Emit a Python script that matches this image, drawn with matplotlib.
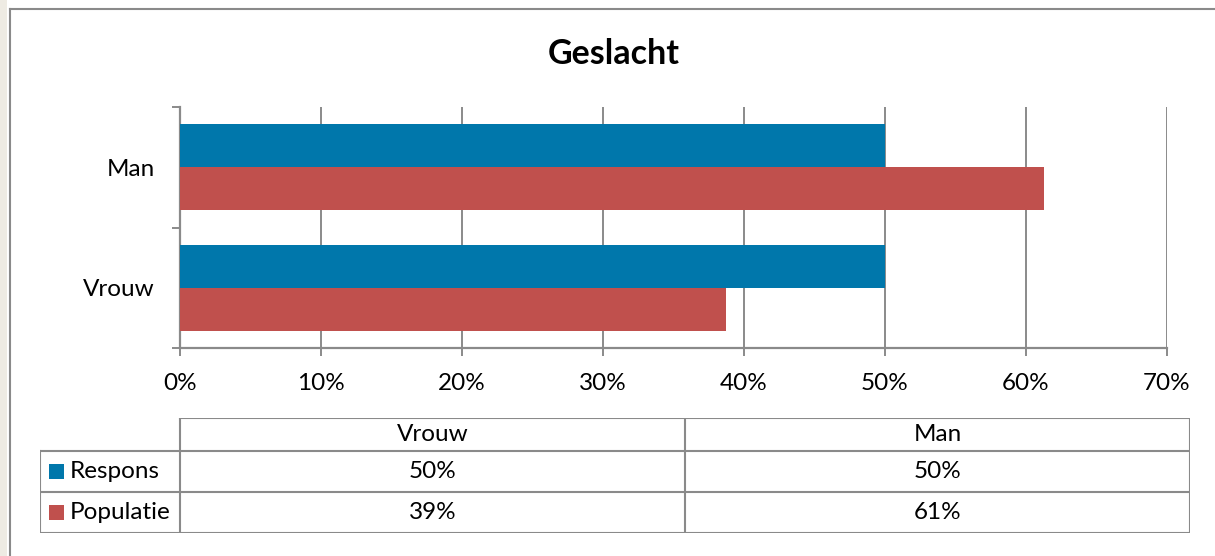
"""
Geslacht: respons vs. populatie, Excel-style horizontal bar chart with data table.
"""

import numpy as np
import matplotlib

matplotlib.use("Agg")
import matplotlib.pyplot as plt
from matplotlib.patches import Rectangle
from matplotlib.ticker import FuncFormatter, MultipleLocator

# ---------------------------------------------------------------------------
# Data
# ---------------------------------------------------------------------------

categories = ["Vrouw", "Man"]
series_names = ["Respons", "Populatie"]
respons = [50.0, 50.0]
populatie = [38.7, 61.3]
table_respons = ["50%", "50%"]
table_populatie = ["39%", "61%"]
title = "Geslacht"

colors = ["#0077AB", "#C0504D"]
grey = "#8A8A8A"
fs = 17.5

plt.rcParams["font.family"] = ["Lato", "DejaVu Sans"]

# ---------------------------------------------------------------------------
# Layout helpers (pixel -> figure fraction)
# ---------------------------------------------------------------------------

W, H = 1215, 556
fig = plt.figure(figsize=(W / 100, H / 100), dpi=100)


def px_rect(x0, y0, x1, y1):
    return [x0 / W, 1 - y1 / H, (x1 - x0) / W, (y1 - y0) / H]


# window frame: beige strip + grey border
fig.patches.append(Rectangle((0, 0), 7 / W, 1, transform=fig.transFigure,
                             facecolor="#EEEBE3", edgecolor="none"))
fig.add_artist(plt.Line2D([10 / W, 10 / W], [0, 1 - 9 / H],
                          transform=fig.transFigure, color=grey, lw=1.5))
fig.add_artist(plt.Line2D([10 / W, 1], [1 - 9 / H, 1 - 9 / H],
                          transform=fig.transFigure, color=grey, lw=1.5))

fig.text(614 / W, 1 - 54 / H, title, ha="center", va="center",
         fontsize=24.5, fontweight="bold")

# ---------------------------------------------------------------------------
# Bars
# ---------------------------------------------------------------------------

ax = fig.add_axes(px_rect(180, 107, 1167, 348))
y = np.arange(len(categories))
h = 0.357
ax.barh(y + h / 2, respons, height=h, color=colors[0], zorder=3)
ax.barh(y - h / 2, populatie, height=h, color=colors[1], zorder=3)

ax.set_xlim(0, 70)
ax.set_ylim(-0.5, len(categories) - 0.5)
ax.xaxis.set_major_locator(MultipleLocator(10))
ax.xaxis.set_major_formatter(FuncFormatter(lambda v, _: f"{v:.0f}%"))
ax.grid(axis="x", color=grey, lw=1.4, zorder=0)
ax.set_axisbelow(True)

ax.set_yticks(y)
ax.set_yticklabels(categories)
ax.set_yticks(np.arange(-0.5, len(categories), 1.0), minor=True)
ax.tick_params(axis="y", which="major", length=0, pad=18, labelsize=fs)
ax.tick_params(axis="y", which="minor", length=6, width=1.4, color=grey)
ax.tick_params(axis="x", length=6, width=1.4, color=grey, pad=12,
               labelsize=fs)

for side in ("top", "right"):
    ax.spines[side].set_visible(False)
for side in ("left", "bottom"):
    ax.spines[side].set_color(grey)
    ax.spines[side].set_linewidth(1.6)

# ---------------------------------------------------------------------------
# Data table
# ---------------------------------------------------------------------------

tx0, tx_lab, tx1 = 40, 180, 1190
ty_head, ty_body, ty_mid, ty_end = 418, 451, 492, 533
tax = fig.add_axes(px_rect(tx0, ty_head, tx1, ty_end))
tax.set_xlim(tx0, tx1)
tax.set_ylim(ty_end, ty_head)
tax.axis("off")

col_w = (tx1 - tx_lab) / len(categories)
col_edges = [tx_lab + i * col_w for i in range(len(categories) + 1)]
lkw = dict(color=grey, lw=1.5, solid_capstyle="projecting")

# horizontal lines
tax.plot([tx_lab, tx1], [ty_head, ty_head], **lkw)
for yy in (ty_body, ty_mid, ty_end):
    tax.plot([tx0, tx1], [yy, yy], **lkw)
# vertical lines
tax.plot([tx0, tx0], [ty_body, ty_end], **lkw)
for xx in col_edges:
    tax.plot([xx, xx], [ty_head, ty_end], **lkw)

row_mids = [(ty_body + ty_mid) / 2, (ty_mid + ty_end) / 2]
for i, cat in enumerate(categories):
    cx = (col_edges[i] + col_edges[i + 1]) / 2
    tax.text(cx, (ty_head + ty_body) / 2, cat, ha="center", va="center",
             fontsize=fs)
    tax.text(cx, row_mids[0], table_respons[i], ha="center", va="center",
             fontsize=fs)
    tax.text(cx, row_mids[1], table_populatie[i], ha="center", va="center",
             fontsize=fs)

for name, color, ym in zip(series_names, colors, row_mids):
    tax.add_patch(Rectangle((49, ym - 7.5), 15, 15, facecolor=color,
                            edgecolor="none"))
    tax.text(70, ym, name, ha="left", va="center", fontsize=fs)

fig.savefig("out.png", dpi=100)
